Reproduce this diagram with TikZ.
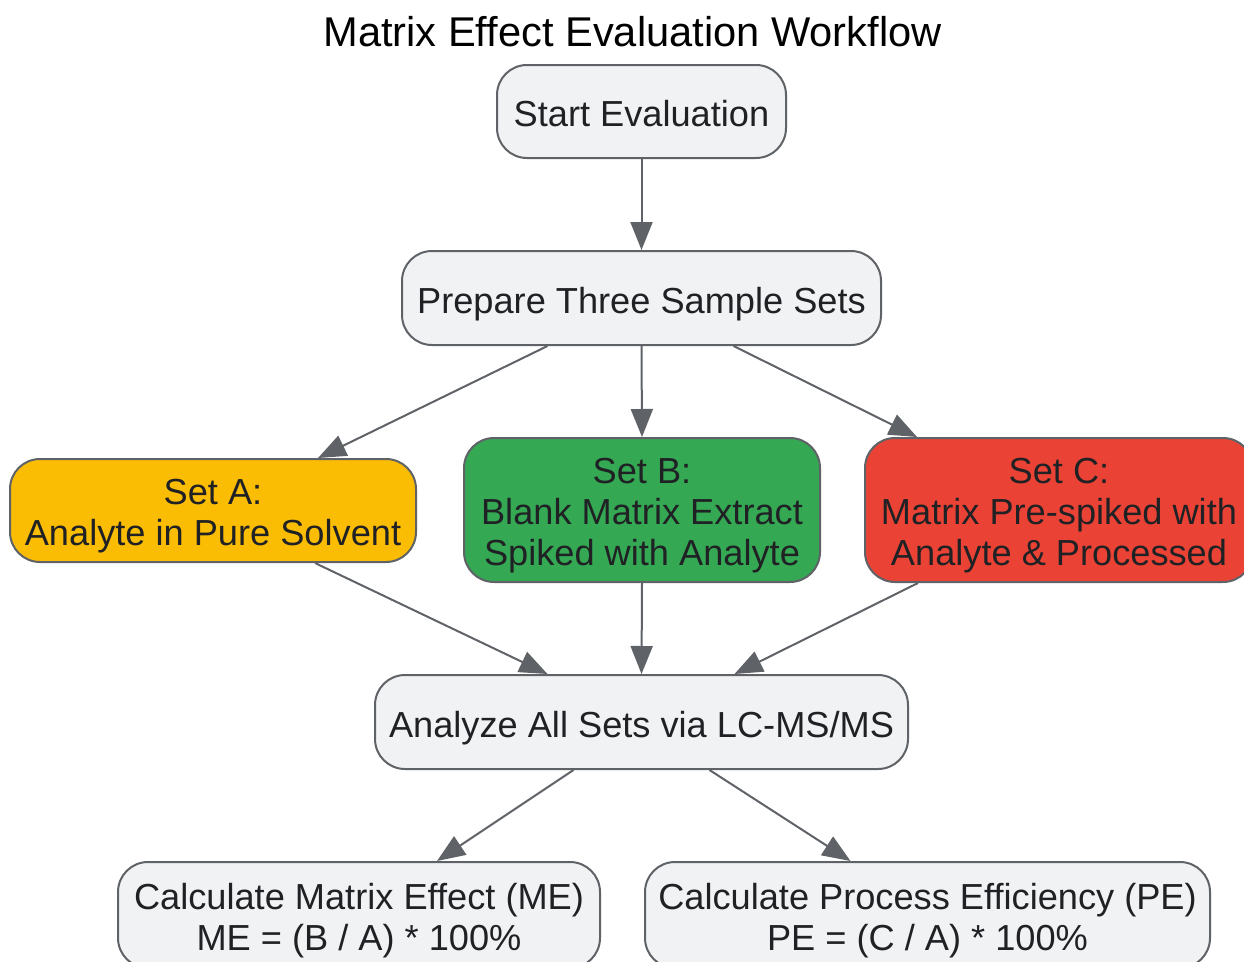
\documentclass[tikz,border=0pt]{standalone}
\usepackage{fontspec}
\setmainfont{Liberation Sans}
\usetikzlibrary{arrows.meta}
\definecolor{nodefill}{HTML}{F1F2F4}
\definecolor{nodeline}{HTML}{5F6368}
\definecolor{txt}{HTML}{202124}
\definecolor{ayellow}{HTML}{FBBC04}
\definecolor{bgreen}{HTML}{34A853}
\definecolor{cred}{HTML}{EA4335}
\newcommand\mlines[1]{\raisebox{0pt}[\dimexpr\height+13pt\relax][\depth]{\begin{tabular}{@{}c@{}}#1\end{tabular}}}
\tikzset{
  box/.style={draw=nodeline, line width=2pt, fill=nodefill, rounded corners=30pt,
    inner sep=0pt, align=center, text=txt,
    font=\fontsize{36.2}{41}\selectfont,
    execute at begin node={\rule{0pt}{38pt}},
    execute at end node={\rule[-8pt]{0pt}{8pt}}},
  multibox/.style={box, execute at begin node={}, execute at end node={}},
  conn/.style={draw=nodeline, line width=2pt, -{Triangle[length=28pt,width=22pt]}},
}
\begin{document}
\begin{tikzpicture}[x=1pt,y=-1pt]
\useasboundingbox (0,0) rectangle (1244,961);
\clip (0,0) rectangle (1244,961);
\node[anchor=base, text=black, font=\fontsize{41.6}{46}\selectfont] (title) at (632.5,46) {Matrix Effect Evaluation Workflow};
\node[box, minimum width=289pt, minimum height=93pt] (start) at (641.5,111.5) {Start Evaluation};
\node[box, minimum width=479pt, minimum height=94pt] (prep) at (641.5,298) {Prepare Three Sample Sets};
\node[multibox, fill=ayellow, minimum width=406pt, minimum height=103pt] (setA) at (213,510.5) {\mlines{Set A:\\Analyte in Pure Solvent}};
\node[multibox, fill=bgreen, minimum width=356pt, minimum height=144pt] (setB) at (642,510) {\mlines{Set B:\\Blank Matrix Extract\\Spiked with Analyte}};
\node[multibox, fill=cred, minimum width=388pt, minimum height=144pt] (setC) at (1059,510) {\mlines{Set C:\\Matrix Pre-spiked with\\Analyte \& Processed}};
\node[box, minimum width=533pt, minimum height=94pt] (anal) at (641.5,722) {Analyze All Sets via LC-MS/MS};
\node[multibox, minimum width=482pt, minimum height=106pt] (me) at (359,915) {\mlines{Calculate Matrix Effect (ME)\\ME = (B / A) * 100\%}};
\node[multibox, minimum width=565pt, minimum height=106pt] (pe) at (927.5,915) {\mlines{Calculate Process Efficiency (PE)\\PE = (C / A) * 100\%}};
\draw[conn] (start.south) -- (prep.north);
\draw[conn] ([xshift=-94pt]prep.south) -- ([xshift=105pt]setA.north);
\draw[conn] (prep.south) -- (setB.north);
\draw[conn] ([xshift=92pt]prep.south) -- ([xshift=-142pt]setC.north);
\draw[conn] ([xshift=102pt]setA.south) -- ([xshift=-94pt]anal.north);
\draw[conn] (setB.south) -- (anal.north);
\draw[conn] ([xshift=-141pt]setC.south) -- ([xshift=93pt]anal.north);
\draw[conn] ([xshift=-68pt]anal.south) -- ([xshift=78pt]me.north);
\draw[conn] ([xshift=68pt]anal.south) -- ([xshift=-77pt]pe.north);
\end{tikzpicture}
\end{document}
